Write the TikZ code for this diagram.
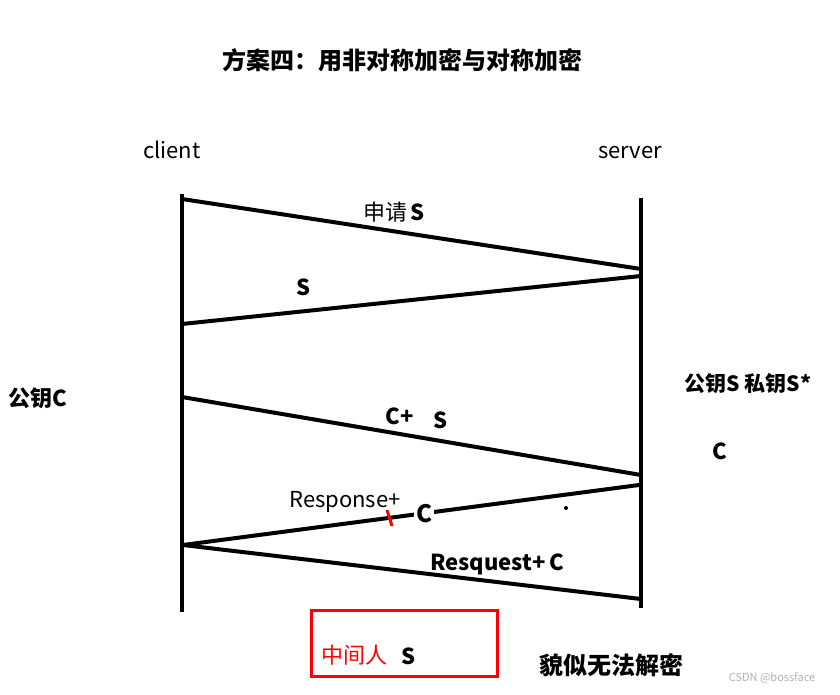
\documentclass[tikz,border=0pt]{standalone}
\usepackage{fontspec}
\setmainfont{Noto Sans CJK SC}
\begin{document}
\begin{tikzpicture}[x=1pt,y=-1pt,
  life/.style={line width=4pt},
  msg/.style={line width=4pt, line cap=round},
  lbl/.style={inner sep=0pt, font=\fontsize{22}{24}\selectfont},
  blbl/.style={inner sep=0pt, font=\fontsize{22}{24}\selectfont\bfseries}]
\useasboundingbox (0,0) rectangle (840,695);
\fill[white] (0,0) rectangle (840,695);
% title
\node[inner sep=0pt, font=\fontsize{24}{26}\selectfont\bfseries] (title) at (402,60) {方案四：用非对称加密与对称加密};
\node[lbl] (client) at (172,150) {client};
\node[lbl] (server) at (630,153) {server};
% lifelines
\coordinate (ltop) at (182,194);
\coordinate (lbot) at (182,612);
\coordinate (rtop) at (641,198);
\coordinate (rbot) at (641,608);
\draw[life] (ltop) -- (lbot);
\draw[life] (rtop) -- (rbot);
% message points
\coordinate (l1) at (182,199);
\coordinate (r1) at (641,269);
\coordinate (r2) at (641,276);
\coordinate (l2) at (182,324);
\coordinate (l3) at (182,397);
\coordinate (r3) at (641,475);
\coordinate (r4) at (639,485);
\coordinate (l4) at (183,545);
\coordinate (r5) at (641,599);
\draw[msg] (l1) -- (r1);
\draw[msg] (r2) -- (l2);
\draw[msg] (l3) -- (r3);
\draw[msg] (r4) -- (l4);
\draw[msg] (l4) -- (r5);
% labels
\node[lbl] (req) at (394,212) {申请\,\textbf{S}};
\node[blbl] (s1) at (304,287) {S};
\node[blbl] (pubc) at (38,398) {公钥C};
\node[inner sep=0pt, font=\fontsize{21}{23}\selectfont\bfseries] (keys) at (748,384) {公钥S 私钥S*};
\node[blbl] (cr) at (720,451) {C};
\node[blbl] (cplus) at (400,416) {C+};
\node[blbl] (s2) at (441,420) {S};
\node[lbl] (resp) at (345,502) {Response+};
\node[inner sep=2pt, fill=white, font=\fontsize{24}{26}\selectfont\bfseries] (c2) at (424,514) {C};
\draw[red, line width=3pt] (387,510) -- (392,526);
\fill (566,508) circle (2);
\node[blbl] (reqc) at (497,564) {Resquest+\,C};
% red box
\node[draw=red, line width=3pt, minimum width=186pt, minimum height=66pt, inner sep=0pt] (box) at (404.5,643) {};
\node[lbl, text=red] (mitm) at (354,655) {中间人};
\node[blbl] (s3) at (409,656) {S};
\node[inner sep=0pt, font=\fontsize{24}{26}\selectfont\bfseries] (nodec) at (611,665) {貌似无法解密};
\node[inner sep=0pt, text=gray!60, font=\fontsize{11}{12}\selectfont] (wm) at (772,678) {CSDN @bossface};
\end{tikzpicture}
\end{document}
